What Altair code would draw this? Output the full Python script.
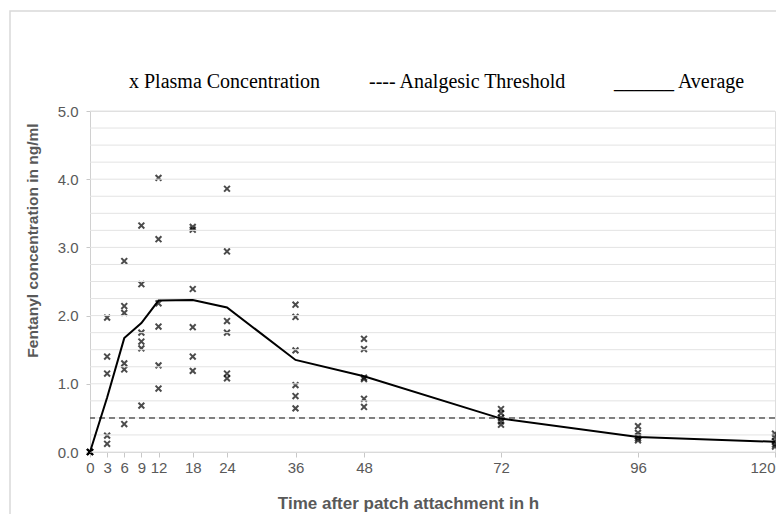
import altair as alt
import pandas as pd

# ---- data ----
times = [0, 3, 6, 9, 12, 18, 24, 36, 48, 72, 96, 120]
plasma = [
    [0.0, 0.0, 0.0, 0.0, 0.0],
    [1.97, 1.40, 1.15, 0.24, 0.12],
    [2.80, 2.14, 2.04, 1.30, 1.21, 0.41],
    [3.32, 2.46, 1.75, 1.62, 1.52, 0.68],
    [4.02, 3.12, 2.18, 1.84, 1.27, 0.93],
    [3.30, 3.26, 2.39, 1.83, 1.40, 1.19],
    [3.86, 2.94, 1.92, 1.75, 1.15, 1.08],
    [2.16, 1.98, 1.49, 0.98, 0.82, 0.64],
    [1.66, 1.51, 1.09, 1.07, 0.78, 0.66],
    [0.63, 0.57, 0.50, 0.45, 0.40],
    [0.38, 0.28, 0.23, 0.20, 0.17],
    [0.27, 0.22, 0.16, 0.11, 0.08],
]
average = [0.0, 0.80, 1.67, 1.89, 2.22, 2.23, 2.12, 1.35, 1.11, 0.49, 0.22, 0.15]
threshold = [0.5]
legend_labels = ["x Plasma Concentration", "---- Analgesic Threshold", "______ Average"]
x_title = "Time after patch attachment in h"
y_title = "Fentanyl concentration in ng/ml"
y_ticks = [0, 1, 2, 3, 4, 5]
y_grid = [i * 0.25 for i in range(21)]

pts = pd.DataFrame(
    [{"t": t, "c": v} for t, vals in zip(times, plasma) for v in vals]
)
avg = pd.DataFrame({"t": times, "c": average})
thr = pd.DataFrame({"c": threshold})
grd = pd.DataFrame({"c": y_grid})
one = pd.DataFrame({"a": [0]})

W, H = 685, 341
GRAY = "#595959"
FONT = "Liberation Sans"

xs = alt.Scale(domain=[0, 120], nice=False)
ys = alt.Scale(domain=[0, 5], nice=False)

frame = alt.Chart(one).mark_rect(
    fillOpacity=0, stroke="#d9d9d9", strokeWidth=1.5
).encode(
    x=alt.value(-80), x2=alt.value(1200), y=alt.value(-100), y2=alt.value(1000)
)

points = alt.Chart(pts).mark_point(
    shape="M-1,-1L1,1M-1,1L1,-1", size=34, strokeWidth=2, color="black", filled=False
).encode(
    x=alt.X(
        "t:Q", scale=xs,
        axis=alt.Axis(
            values=times, title=x_title, grid=False, format="d", labelFlush=False,
            labelOverlap=False,
            labelAlign={"condition": {"test": "datum.value >= 120", "value": "right"},
                        "value": "center"},
            domainColor="#d0d0d0", tickColor="#c8c8c8", tickSize=5,
            labelPadding=3, labelFont=FONT, labelFontSize=15, labelColor=GRAY,
            titleFont=FONT, titleFontSize=17, titleFontWeight="bold", titleColor=GRAY,
            titleX=318, titleY=51, titleBaseline="middle", titleAlign="center",
        ),
    ),
    y=alt.Y(
        "c:Q", scale=ys,
        axis=alt.Axis(
            values=y_ticks, title=y_title, grid=False, format=".1f", labelFlush=False,
            domainColor="#d0d0d0", tickColor="#c8c8c8", tickSize=4,
            labelPadding=8, labelFont=FONT, labelFontSize=15, labelColor=GRAY,
            titleFont=FONT, titleFontSize=15.5, titleFontWeight="bold", titleColor=GRAY,
            titleX=-58, titleY=129, titleBaseline="middle", titleAlign="center",
        ),
    ),
)

grid = alt.Chart(grd).mark_rule(color="#e3e3e3", strokeWidth=1).encode(
    y=alt.Y("c:Q", scale=ys)
)

thr_rule = alt.Chart(thr).mark_rule(
    color=GRAY, strokeDash=[6, 4], strokeWidth=1.5
).encode(y=alt.Y("c:Q", scale=ys))

avg_line = alt.Chart(avg).mark_line(color="black", strokeWidth=2).encode(
    x=alt.X("t:Q", scale=xs), y=alt.Y("c:Q", scale=ys)
)

legend_x = [39, 279, 524]
legend_layers = [
    alt.Chart(one).mark_text(
        text=lab, font="Liberation Serif", fontSize=20, color="black",
        align="left", baseline="middle",
    ).encode(x=alt.value(lx), y=alt.value(-29))
    for lab, lx in zip(legend_labels, legend_x)
]

chart = alt.layer(
    points, frame, grid, thr_rule, avg_line, *legend_layers
).properties(
    width=W, height=H,
    autosize=alt.AutoSizeParams(type="none"),
    padding={"left": 82, "top": 103, "right": 1, "bottom": 62},
).configure_view(stroke=None).configure(background="white")

chart.save("out.html", embed_options={"renderer": "svg", "actions": False})
